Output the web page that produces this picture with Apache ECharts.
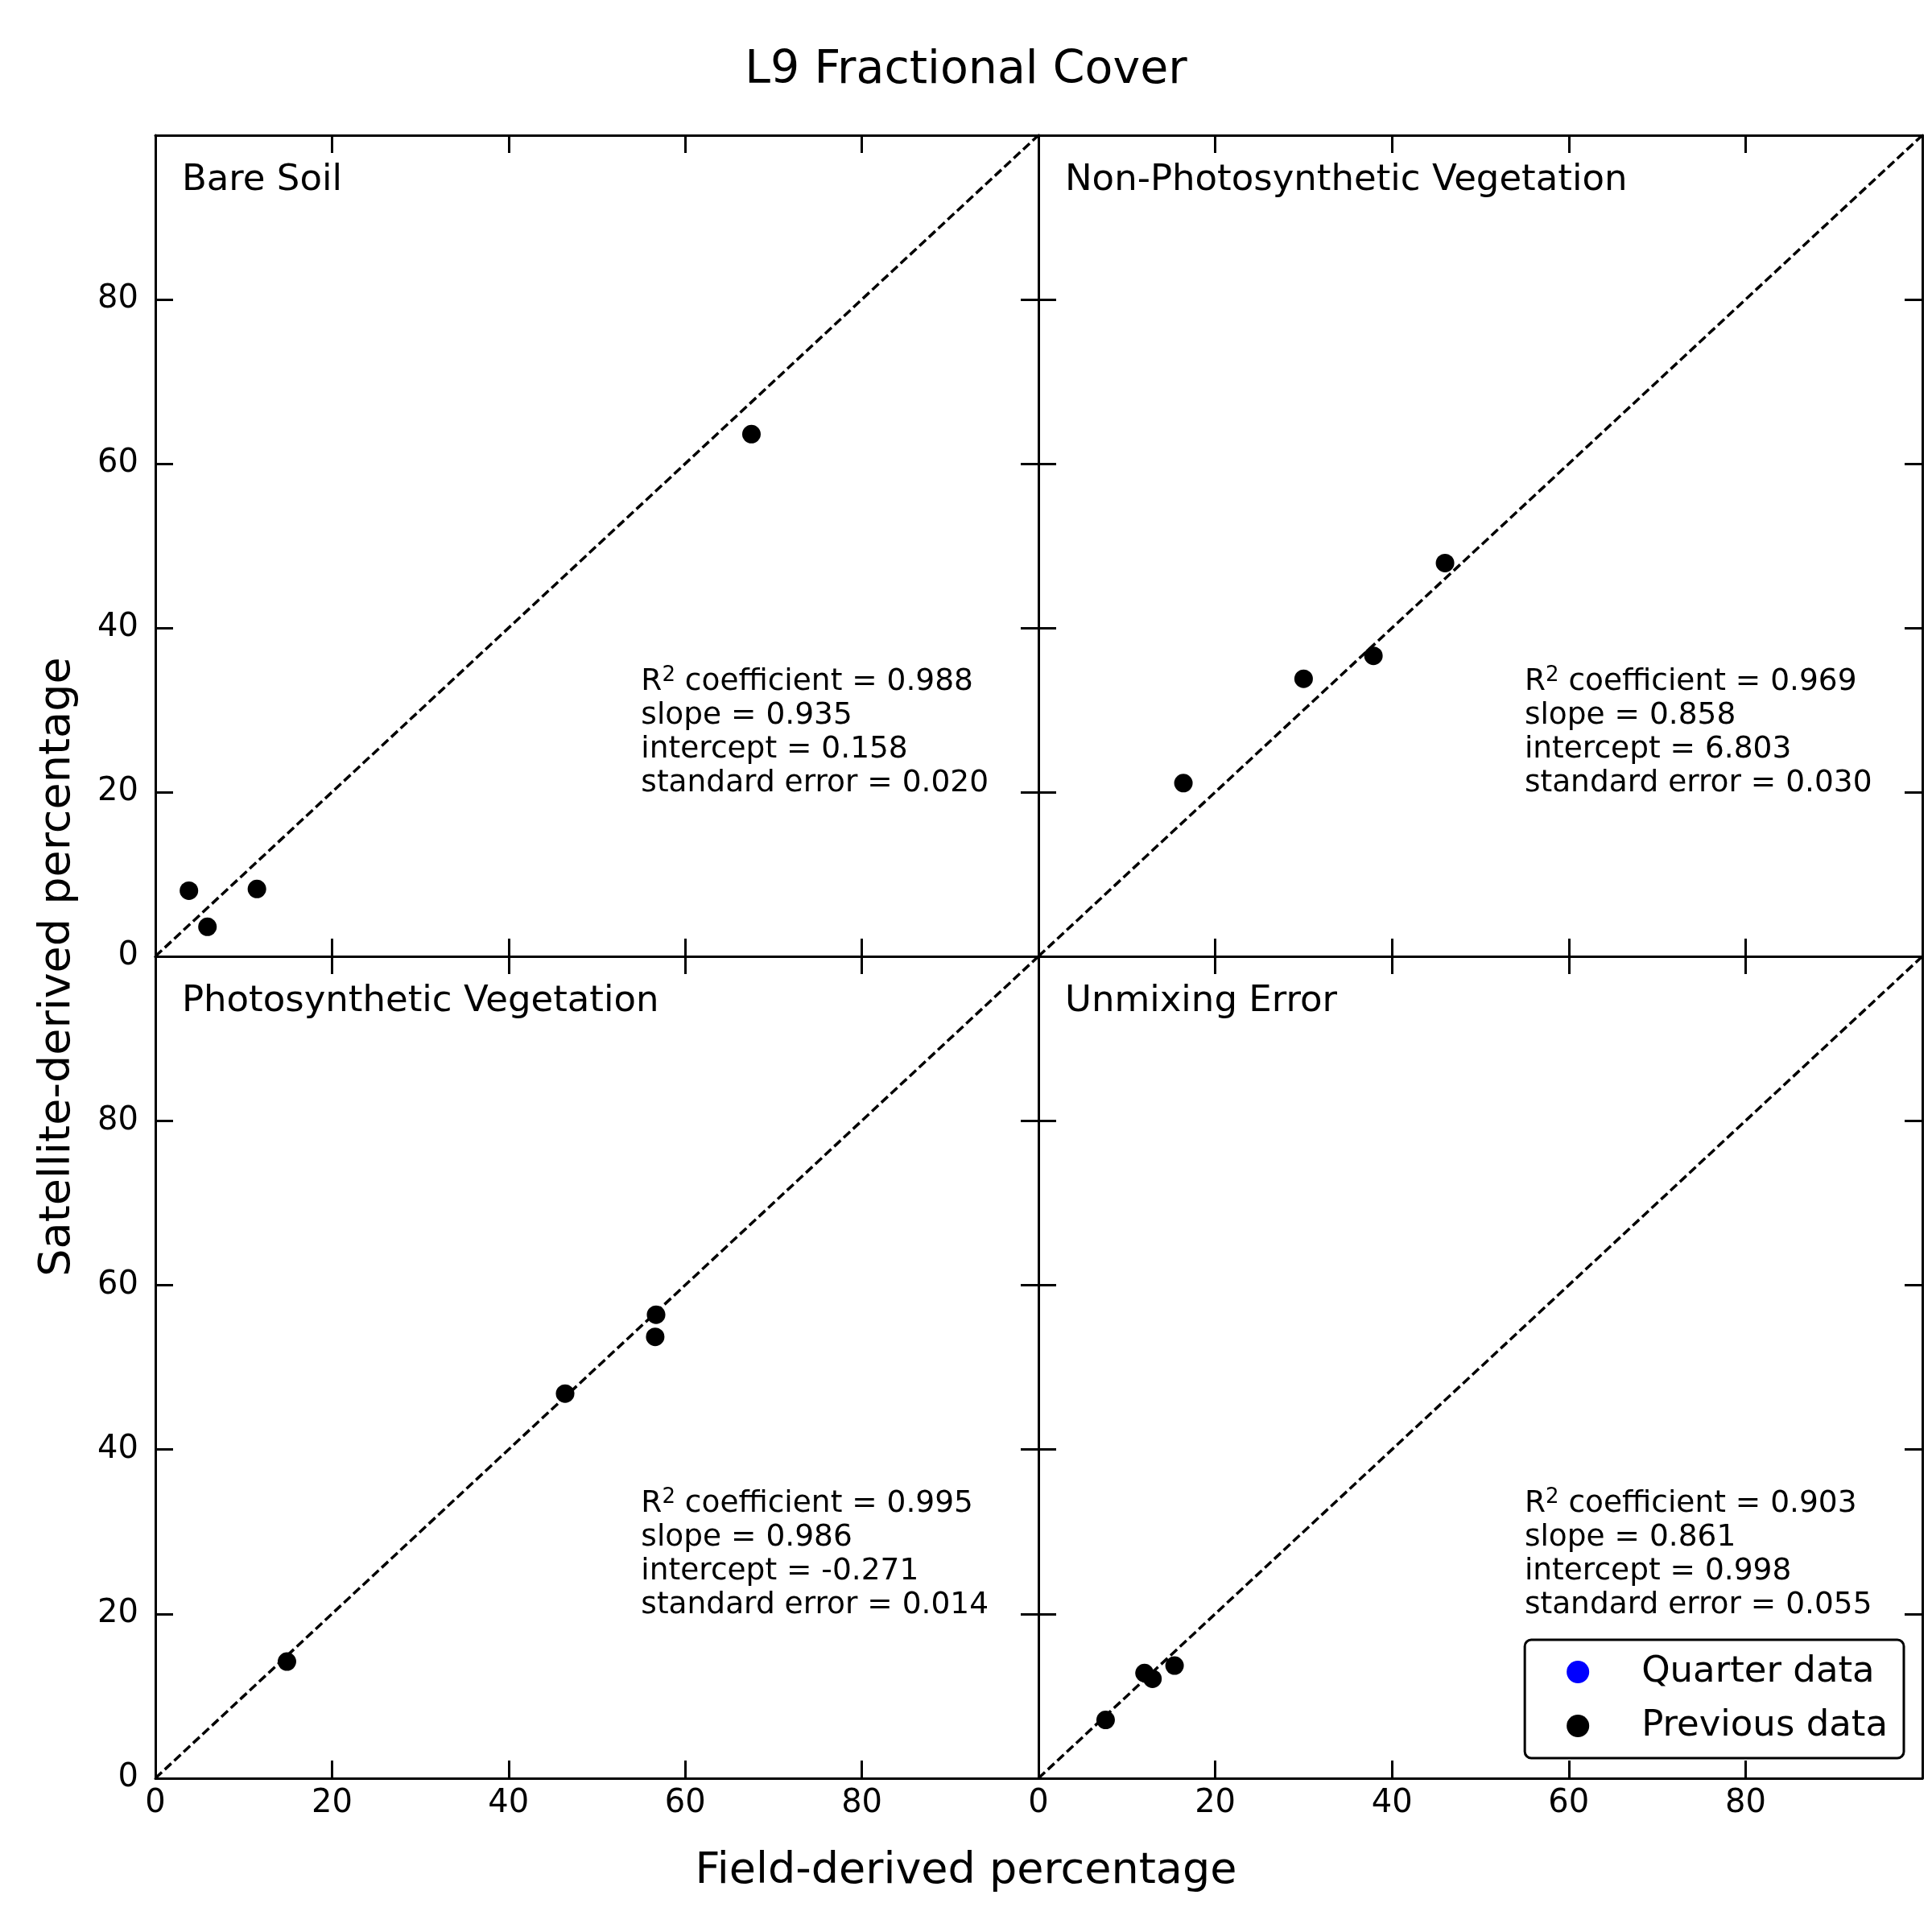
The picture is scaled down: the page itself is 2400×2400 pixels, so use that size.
<!DOCTYPE html>
<html>
<head>
<meta charset="utf-8">
<title>L9 Fractional Cover</title>
<script src="https://cdn.jsdelivr.net/npm/echarts@6/dist/echarts.min.js"></script>
<style>
  html, body { margin: 0; padding: 0; background: #fff; }
  #chart { width: 2400px; height: 2400px; }
</style>
</head>
<body>
<div id="chart"></div>
<script>
// panel order: top-left, top-right, bottom-left, bottom-right
const panels = ["Bare Soil", "Non-Photosynthetic Vegetation", "Photosynthetic Vegetation", "Unmixing Error"];

// previous data: field-derived (x) vs satellite-derived (y) percentage
const bareSoilX = [3.8, 5.9, 11.5, 67.5];
const bareSoilY = [8.0, 3.6, 8.2, 63.6];
const npvX = [16.4, 30.0, 37.9, 46.0];
const npvY = [21.1, 33.8, 36.6, 47.9];
const pvX = [14.9, 46.4, 56.7, 56.6];
const pvY = [14.2, 46.8, 56.4, 53.7];
const errX = [7.6, 12.0, 12.9, 15.4];
const errY = [7.1, 12.8, 12.1, 13.7];

// quarter data (nothing plotted)
const quarterX = [];
const quarterY = [];

// regression stats per panel
const r2 = ["0.988", "0.969", "0.995", "0.903"];
const slope = ["0.935", "0.858", "0.986", "0.861"];
const intercept = ["0.158", "6.803", "-0.271", "0.998"];
const stdErr = ["0.020", "0.030", "0.014", "0.055"];

const axisTicks = [0, 20, 40, 60, 80, 100];
const oneToOne = [0, 100];
const statsAnchor = [55, 19];
const nameAnchor = [3, 94.5];

const font = "DejaVu Sans";
const prevX = [bareSoilX, npvX, pvX, errX];
const prevY = [bareSoilY, npvY, pvY, errY];

const grids = [
  { left: 193, top: 168, width: 1097, height: 1020 },
  { left: 1290, top: 168, width: 1098, height: 1020 },
  { left: 193, top: 1188, width: 1097, height: 1021 },
  { left: 1290, top: 1188, width: 1098, height: 1021 },
];

function makeAxis(gridIndex, position, showLabels, isX) {
  return {
    type: "value",
    gridIndex: gridIndex,
    position: position,
    min: axisTicks[0],
    max: axisTicks[axisTicks.length - 1],
    interval: axisTicks[1] - axisTicks[0],
    axisLine: { show: true, onZero: false, lineStyle: { color: "#000", width: 3 } },
    axisTick: { show: true, inside: true, length: 22, lineStyle: { color: "#000", width: 3 } },
    splitLine: { show: false },
    axisLabel: {
      show: showLabels,
      showMinLabel: true,
      showMaxLabel: false,
      color: "#000",
      fontSize: 40,
      fontFamily: font,
      margin: isX ? 12 : 21,
    },
  };
}

const xAxes = [];
const yAxes = [];
const series = [];

for (let i = 0; i < 4; i++) {
  xAxes.push(makeAxis(i, "bottom", i >= 2, true));
  xAxes.push(makeAxis(i, "top", false, true));
  yAxes.push(makeAxis(i, "left", i % 2 === 0, false));
  yAxes.push(makeAxis(i, "right", false, false));

  // 1:1 line
  series.push({
    name: "1:1",
    type: "line",
    xAxisIndex: 2 * i,
    yAxisIndex: 2 * i,
    data: oneToOne.map((v) => [v, v]),
    symbol: "none",
    silent: true,
    lineStyle: { color: "#000", width: 3.5, type: [11, 5] },
    z: 1,
  });

  series.push({
    name: "Previous data",
    type: "scatter",
    xAxisIndex: 2 * i,
    yAxisIndex: 2 * i,
    data: prevX[i].map((x, j) => [x, prevY[i][j]]),
    symbolSize: 23,
    itemStyle: { color: "#000", opacity: 1 },
    z: 3,
  });

  // panel name
  series.push({
    name: "panel-" + i,
    type: "scatter",
    xAxisIndex: 2 * i,
    yAxisIndex: 2 * i,
    data: [nameAnchor],
    symbolSize: 0,
    silent: true,
    itemStyle: { opacity: 1 },
    label: {
      show: true,
      position: [0, 0],
      align: "left",
      verticalAlign: "middle",
      formatter: panels[i],
      fontSize: 45,
      fontFamily: font,
      color: "#000",
      opacity: 1,
    },
  });

  // regression stats
  series.push({
    name: "stats-" + i,
    type: "scatter",
    xAxisIndex: 2 * i,
    yAxisIndex: 2 * i,
    data: [statsAnchor],
    symbolSize: 0,
    silent: true,
    itemStyle: { opacity: 1 },
    label: {
      show: true,
      position: [0, 0],
      align: "left",
      verticalAlign: "bottom",
      opacity: 1,
      formatter:
        "{t|R}{s|2}{t| coefficient = " + r2[i] + "}\n" +
        "{t|slope = " + slope[i] + "}\n" +
        "{t|intercept = " + intercept[i] + "}\n" +
        "{t|standard error = " + stdErr[i] + "}",
      rich: {
        t: { fontSize: 37.5, lineHeight: 42, fontFamily: font, color: "#000" },
        s: { fontSize: 26, lineHeight: 30, fontFamily: font, color: "#000", verticalAlign: "top" },
      },
    },
  });
}

series.push({
  name: "Quarter data",
  type: "scatter",
  xAxisIndex: 6,
  yAxisIndex: 6,
  data: quarterX.map((x, j) => [x, quarterY[j]]),
  symbolSize: 23,
  itemStyle: { color: "#0000ff", opacity: 1 },
});

const chart = echarts.init(document.getElementById("chart"));
const option = {
  backgroundColor: "#fff",
  animation: false,
  textStyle: { fontFamily: font },
  grid: grids,
  xAxis: xAxes,
  yAxis: yAxes,
  legend: {
    data: [
      { name: "Quarter data", icon: "circle", itemStyle: { color: "#0000ff", opacity: 1 } },
      { name: "Previous data", icon: "circle", itemStyle: { color: "#000", opacity: 1 } },
    ],
    orient: "vertical",
    right: 35,
    bottom: 216,
    itemWidth: 28,
    itemHeight: 28,
    itemGap: 17,
    padding: [15, 20, 15, 52],
    borderColor: "#000",
    borderWidth: 3,
    borderRadius: 8,
    backgroundColor: "#fff",
    selectedMode: false,
    textStyle: { fontSize: 45, fontFamily: font, color: "#000", lineHeight: 50, padding: [0, 0, 0, 60] },
    z: 10,
  },
  graphic: [
    {
      type: "text",
      x: 1200,
      y: 88,
      style: { text: "L9 Fractional Cover", fontSize: 57, fontFamily: font, fill: "#000", align: "center", verticalAlign: "middle" },
    },
    {
      type: "text",
      x: 1200,
      y: 2325,
      style: { text: "Field-derived percentage", fontSize: 54, fontFamily: font, fill: "#000", align: "center", verticalAlign: "middle" },
    },
    {
      type: "text",
      x: 72,
      y: 1201,
      rotation: Math.PI / 2,
      style: { text: "Satellite-derived percentage", fontSize: 54, fontFamily: font, fill: "#000", align: "center", verticalAlign: "middle" },
    },
  ],
  series: series,
};
chart.setOption(option);
</script>
</body>
</html>
